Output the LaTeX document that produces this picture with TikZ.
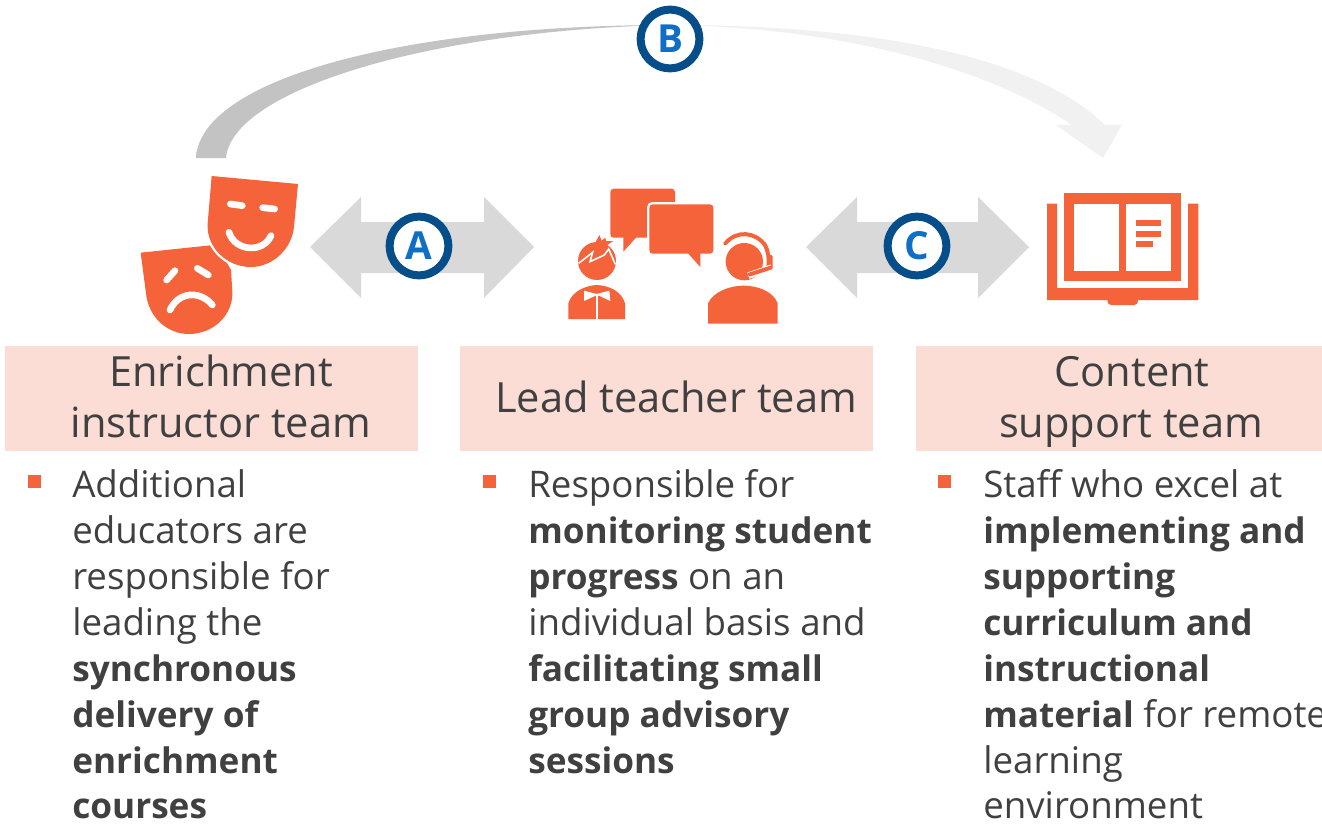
\documentclass[tikz,border=0pt]{standalone}
\usepackage{fontspec}
\setmainfont{Open Sans}
\definecolor{org}{HTML}{F5633A}
\definecolor{pinkbox}{HTML}{FBDDD5}
\definecolor{ringc}{HTML}{054E8A}
\definecolor{letc}{HTML}{0F6FC6}
\definecolor{txt}{HTML}{404040}
\definecolor{arr}{HTML}{D9D9D9}
\definecolor{bdark}{HTML}{C3C3C3}
\definecolor{blight}{HTML}{F1F1F1}
\pgfdeclarehorizontalshading{bshade}{100bp}{color(0bp)=(bdark);color(25bp)=(bdark);color(49bp)=(bdark);color(53bp)=(blight);color(75bp)=(blight);color(100bp)=(blight)}
\tikzset{
 body/.style={anchor=base west,inner sep=0pt,text=txt,font=\fontsize{27.5pt}{32pt}\selectfont},
 head/.style={anchor=base,inner sep=0pt,text=txt,font=\fontsize{31.2pt}{36pt}\selectfont},
 badge/.style={circle,draw=ringc,line width=6pt,fill=white,minimum size=44pt,inner sep=0pt,text=letc,font=\fontsize{29pt}{32pt}\selectfont\bfseries},
 pbox/.style={fill=pinkbox},
 bull/.style={fill=org},
 dbl/.style={fill=arr},
 ico/.style={fill=org},
 cut/.style={draw=white,line width=5pt,line cap=round,line join=round},
 slit/.style={draw=white,line width=1.5pt},
}
\newcommand{\bt}[1]{{\fontsize{26.4pt}{32pt}\selectfont\bfseries #1}}
\begin{document}
\begin{tikzpicture}[x=0.75pt,y=-0.75pt]
\useasboundingbox (0,0) rectangle (1322,824);
% curved arrow B
\path[shading=bshade] (196,158) .. controls (200,80) and (400,25) .. (670,25)
  .. controls (860,25) and (1030,52) .. (1105,125) -- (1122,125) -- (1103,158) -- (1056,125) -- (1072,125)
  .. controls (975,60) and (820,27) .. (670,25)
  .. controls (430,30) and (232,90) .. (226,158) -- cycle;
% double arrows
\fill[dbl] (310,247) -- (361,197) -- (361,222) -- (484,222) -- (484,197) -- (534,247) -- (484,298) -- (484,273) -- (361,273) -- (361,298) -- cycle;
\fill[dbl] (806,247) -- (857,197) -- (857,222) -- (978,222) -- (978,197) -- (1029,247) -- (978,298) -- (978,273) -- (857,273) -- (857,298) -- cycle;
\node[badge] (A) at (419,246) {A};
\node[badge] (B) at (670,39) {B};
\node[badge] (C) at (917,246) {C};
% masks
\begin{scope}[shift={(120,160)},x=0.25pt,y=-0.25pt]
 \fill[ico] (62,278) -- (290,254) -- (333,330) -- (337,395) .. controls (340,465) and (280,522) .. (207,522) .. controls (140,522) and (85,470) .. (78,400) -- cycle;
 \path[ico,draw=white,line width=3.5pt,line join=round] (275,48) -- (534,72) -- (522,200) .. controls (516,265) and (460,321) .. (392,321) .. controls (320,321) and (258,262) .. (263,190) -- cycle;
 \fill[ico] (275,48) -- (534,72) -- (522,200) .. controls (516,265) and (460,321) .. (392,321) .. controls (320,321) and (258,262) .. (263,190) -- cycle;
 \draw[cut] (331,132) -- (367,137);
 \draw[cut] (428,143) -- (464,147);
 \draw[cut] (327,217) .. controls (345,275) and (430,280) .. (453,227);
 \draw[cut] (140,360) -- (165,332);
 \draw[cut] (232,325) -- (265,345);
 \draw[cut] (150,450) .. controls (175,395) and (240,390) .. (277,435);
\end{scope}
% people and bubbles
\begin{scope}[shift={(550,175)},x=0.25pt,y=-0.25pt]
 \fill[ico,rounded corners=2.5pt] (181,41) -- (375,41) -- (375,188) -- (181,188) -- cycle;
 \fill[ico] (220,180) -- (220,230) -- (258,188) -- (258,180) -- cycle;
 \path[ico,draw=white,line width=3.5pt,rounded corners=2.5pt] (298,88) -- (490,88) -- (490,236) -- (298,236) -- cycle;
 \fill[ico,rounded corners=2.5pt] (298,88) -- (490,88) -- (490,236) -- (298,236) -- cycle;
 \fill[ico] (415,230) -- (415,236) -- (451,276) -- (451,230) -- cycle;
 % left person
 \fill[ico] (141,258) circle[radius=57];
 \fill[ico] (148,180) -- (155,197) -- (166,188) -- (168,198) -- (190,198) -- (172,210) -- (135,205) -- cycle;
 \draw[white,line width=1.2pt,line join=miter] (86,265) -- (128,232) -- (120,260) -- (163,240) -- (176,222) -- (196,268);
 \fill[ico] (55,432) -- (55,385) .. controls (65,350) and (105,332) .. (140,330) .. controls (180,332) and (215,350) .. (225,385) -- (225,432) -- cycle;
 \fill[white] (102,347) -- (140,357) -- (178,347) -- (181,378) -- (147,362) -- (137,362) -- (102,378) -- cycle;
 \draw[slit] (142,360) -- (142,432);
 % right person
 \fill[ico] (583,260) circle[radius=56];
 \draw[org,line width=3pt,line cap=round] (526,205) .. controls (560,165) and (615,170) .. (645,210) .. controls (655,230) and (658,250) .. (655,275);
 \fill[ico,rounded corners=1pt] (655,240) -- (668,240) -- (668,280) -- (655,285) -- cycle;
 \draw[white,line width=5pt] (595,302) -- (665,278);
 \draw[org,line width=3pt,line cap=round] (600,298) -- (662,278);
 \fill[ico] (474,446) -- (474,385) .. controls (490,350) and (540,332) .. (580,332) .. controls (625,332) and (670,350) .. (683,385) -- (683,446) -- cycle;
\end{scope}
% book
\begin{scope}[shift={(1030,110)},x=0.25pt,y=-0.25pt]
 \fill[ico] (51,281) -- (81,281) -- (81,534) -- (474,534) -- (474,281) -- (505,281) -- (505,570) -- (51,570) -- cycle;
 \fill[ico,rounded corners=3pt] (232,560) -- (232,585) -- (324,585) -- (324,560) -- cycle;
 \fill[ico] (103,250) rectangle (454,513);
 \fill[white] (133,281) rectangle (268,482);
 \fill[white] (288,281) rectangle (423,482);
 \fill[ico] (318,330) rectangle (393,348);
 \fill[ico] (318,363) rectangle (393,381);
 \fill[ico] (318,394) rectangle (369,411);
\end{scope}
% boxes
\fill[pbox] (5,346) rectangle (418,451);
\fill[pbox] (460,346) rectangle (873,451);
\fill[pbox] (916,346) rectangle (1322,451);
\node[head] (t1a) at (221,386) {Enrichment};
\node[head] (t1b) at (221,437) {instructor team};
\node[head] (t2) at (676,412) {Lead teacher team};
\node[head] (t3a) at (1132,386) {Content};
\node[head] (t3b) at (1131,437) {support team};
% bullets
\fill[bull] (28,475) rectangle (41,488);
\fill[bull] (483,475) rectangle (496,488);
\fill[bull] (938,475) rectangle (951,488);
% column 1
\node[body] (a1) at (72,497) {Additional};
\node[body] (a2) at (72,543) {educators are};
\node[body] (a3) at (72,589) {responsible for};
\node[body] (a4) at (72,635) {leading the};
\node[body] (a5) at (72,681) {\bt{synchronous}};
\node[body] (a6) at (72,727) {\bt{delivery of}};
\node[body] (a7) at (72,773) {\bt{enrichment}};
\node[body] (a8) at (72,818) {\bt{courses}};
% column 2
\node[body] (b1) at (528,497) {Responsible for};
\node[body] (b2) at (528,543) {\bt{monitoring student}};
\node[body] (b3) at (528,589) {\bt{progress} on an};
\node[body] (b4) at (528,635) {individual basis and};
\node[body] (b5) at (528,681) {\bt{facilitating small}};
\node[body] (b6) at (528,727) {\bt{group advisory}};
\node[body] (b7) at (528,773) {\bt{sessions}};
% column 3
\node[body] (c1) at (983,497) {Staff who excel at};
\node[body] (c2) at (983,543) {\bt{implementing and}};
\node[body] (c3) at (983,589) {\bt{supporting}};
\node[body] (c4) at (983,635) {\bt{curriculum and}};
\node[body] (c5) at (983,681) {\bt{instructional}};
\node[body] (c6) at (983,727) {\bt{material} for remote};
\node[body] (c7) at (983,773) {learning};
\node[body] (c8) at (983,818) {environment};
\end{tikzpicture}
\end{document}
